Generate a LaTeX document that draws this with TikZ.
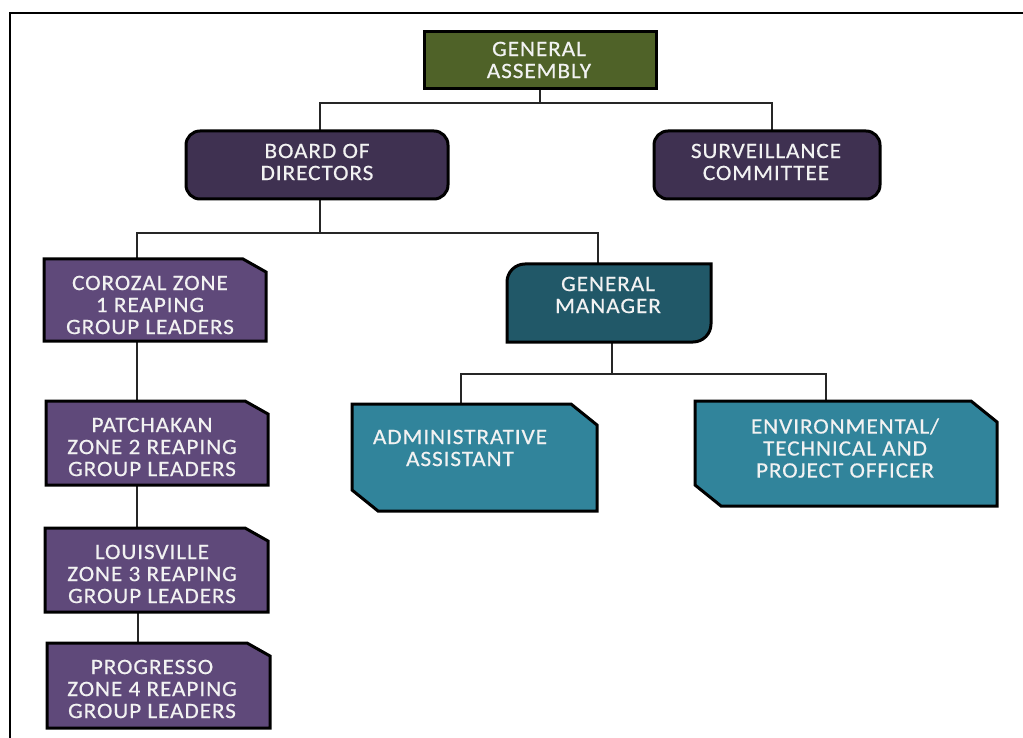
\documentclass[tikz,border=0pt]{standalone}
\usepackage{fontspec}
\newfontfamily\boxfont{Carlito}[FakeStretch=1.06,LetterSpace=4,FakeBold=0.4]
\definecolor{gacol}{HTML}{4F6228}
\definecolor{bodcol}{HTML}{3F3151}
\definecolor{zonecol}{HTML}{5F497A}
\definecolor{gmcol}{HTML}{215868}
\definecolor{staffcol}{HTML}{31849B}
\definecolor{txtcol}{HTML}{F2F2F2}
\tikzset{
  holder/.style={rectangle, draw=none, inner sep=0pt, outer sep=0pt},
  outline/.style={draw=black, line width=3pt, line join=miter},
  conn/.style={draw=black!85, line width=1.4pt},
  txt/.style={text=txtcol, align=center, inner sep=0pt, font=\boxfont\fontsize{22}{22}\selectfont},
  frameline/.style={draw=black, line width=2pt}
}
\newcommand\zonebox[2]{\draw[outline,fill=#2] (#1.north west) -- ([xshift=-23pt]#1.north east) -- ([yshift=-13pt]#1.north east) -- (#1.south east) -- (#1.south west) -- cycle;}
\newcommand\staffbox[2]{\draw[outline,fill=#2] (#1.north west) -- ([xshift=-26pt]#1.north east) -- ([yshift=-21pt]#1.north east) -- (#1.south east) -- ([xshift=26pt]#1.south west) -- ([yshift=21pt]#1.south west) -- cycle;}
\begin{document}
\begin{tikzpicture}[x=1pt,y=-1pt]
\useasboundingbox (0,0) rectangle (1023,738);
\fill[white] (0,0) rectangle (1023,738);
% frame
\coordinate (fbl) at (10,738);
\coordinate (ftl) at (10,13);
\coordinate (ftr) at (1023,13);
\draw[frameline] (fbl) -- (ftl) -- (ftr);
% box holders
\node[holder, minimum width=232pt, minimum height=57pt] (ga) at (540,60.5) {};
\node[holder, minimum width=262pt, minimum height=68pt] (bod) at (317,165) {};
\node[holder, minimum width=226pt, minimum height=68pt] (sc) at (767,165) {};
\node[holder, minimum width=222pt, minimum height=82pt] (z1) at (155,300) {};
\node[holder, minimum width=222pt, minimum height=84pt] (z2) at (157,443) {};
\node[holder, minimum width=223pt, minimum height=84pt] (z3) at (156.5,570) {};
\node[holder, minimum width=223pt, minimum height=85pt] (z4) at (158.5,685.5) {};
\node[holder, minimum width=204pt, minimum height=78pt] (gm) at (609,303) {};
\node[holder, minimum width=245pt, minimum height=107pt] (aa) at (474.5,457.5) {};
\node[holder, minimum width=302pt, minimum height=105pt] (env) at (846,453.5) {};
% connectors
\draw[conn] (ga.south) -- ++(0,14) -| ([xshift=3pt]bod.north);
\draw[conn] (ga.south) -- ++(0,14) -| ([xshift=5pt]sc.north);
\draw[conn] ([xshift=3pt]bod.south) -- ++(0,34) -| ([xshift=-18pt]z1.north);
\draw[conn] ([xshift=3pt]bod.south) -- ++(0,34) -| ([xshift=-11pt]gm.north);
\draw[conn] ([xshift=-18pt]z1.south) -- ([xshift=-20pt]z2.north);
\draw[conn] ([xshift=-20pt]z2.south) -- ([xshift=-19.5pt]z3.north);
\draw[conn] ([xshift=-18.5pt]z3.south) -- ([xshift=-20.5pt]z4.north);
\draw[conn] ([xshift=3pt]gm.south) -- ++(0,32) -| ([xshift=-13.5pt]aa.north);
\draw[conn] ([xshift=3pt]gm.south) -- ++(0,32) -| ([xshift=-20pt]env.north);
% box outlines
\draw[outline, fill=gacol] (ga.north west) rectangle (ga.south east);
\draw[outline, fill=bodcol, rounded corners=14pt] (bod.north west) rectangle (bod.south east);
\draw[outline, fill=bodcol, rounded corners=14pt] (sc.north west) rectangle (sc.south east);
\zonebox{z1}{zonecol}
\zonebox{z2}{zonecol}
\zonebox{z3}{zonecol}
\zonebox{z4}{zonecol}
\draw[outline, fill=gmcol] (gm.south west) -- ([yshift=-18pt]gm.north west) arc[start angle=180, end angle=90, radius=18pt] -- (gm.north east) -- ([yshift=18pt]gm.south east) arc[start angle=0, end angle=-90, radius=18pt] -- cycle;
\staffbox{aa}{staffcol}
\staffbox{env}{staffcol}
% texts
\node[txt] (gat) at (539,60) {GENERAL\\ASSEMBLY};
\node[txt] (bodt) at (317,162) {BOARD OF\\DIRECTORS};
\node[txt] (sct) at (766,162) {SURVEILLANCE\\COMMITTEE};
\node[txt] (z1t) at (150,305) {COROZAL ZONE\\1 REAPING\\GROUP LEADERS};
\node[txt] (z2t) at (152,447) {PATCHAKAN\\ZONE 2 REAPING\\GROUP LEADERS};
\node[txt] (z3t) at (152,574) {LOUISVILLE\\ZONE 3 REAPING\\GROUP LEADERS};
\node[txt] (z4t) at (152,689) {PROGRESSO\\ZONE 4 REAPING\\GROUP LEADERS};
\node[txt] (gmt) at (608,295) {GENERAL\\MANAGER};
\node[txt] (aat) at (460,448) {ADMINISTRATIVE\\ASSISTANT};
\node[txt] (envt) at (845,448) {ENVIRONMENTAL/\\TECHNICAL AND\\PROJECT OFFICER};
\end{tikzpicture}
\end{document}
